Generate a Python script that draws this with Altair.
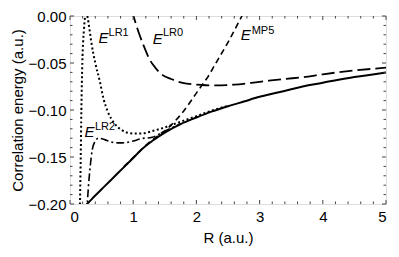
import altair as alt
import pandas as pd

# ---- data ----
R_exact = [0.24, 0.27, 0.4, 0.55, 0.7, 0.85, 1.0, 1.125, 1.3, 1.5, 1.75, 2.0, 2.25, 2.5, 2.75, 3.0, 3.25, 3.5, 3.75, 4.0, 4.5, 5.0]
E_exact = [-0.202, -0.200, -0.191, -0.181, -0.171, -0.161, -0.151, -0.1425, -0.133, -0.124, -0.115, -0.108, -0.1015, -0.096, -0.091, -0.086, -0.082, -0.078, -0.074, -0.071, -0.065, -0.060]

R_lr1 = [0.155, 0.17, 0.18, 0.195, 0.22, 0.25, 0.265, 0.28, 0.31, 0.34, 0.40, 0.47, 0.53, 0.60, 0.70, 0.81, 0.90, 1.0, 1.125, 1.3, 1.5, 1.75, 2.0, 2.25, 2.5]
E_lr1 = [-0.21, -0.15, -0.10, -0.05, -0.015, 0.002, 0.002, -0.002, -0.015, -0.029, -0.050, -0.069, -0.088, -0.102, -0.114, -0.121, -0.124, -0.125, -0.125, -0.1225, -0.1185, -0.1125, -0.1065, -0.1005, -0.0955]

R_lr2 = [0.265, 0.29, 0.32, 0.35, 0.40, 0.45, 0.55, 0.65, 0.79, 0.90, 1.0, 1.125, 1.3, 1.5, 1.75]
E_lr2 = [-0.21, -0.183, -0.160, -0.143, -0.133, -0.130, -0.1315, -0.134, -0.135, -0.1345, -0.133, -0.1305, -0.129, -0.1225, -0.1145]

R_mp5 = [0.85, 1.0, 1.2, 1.4, 1.57, 1.8, 2.01, 2.09, 2.17, 2.30, 2.5, 2.72, 2.8]
E_mp5 = [-0.1605, -0.1505, -0.1375, -0.127, -0.118, -0.101, -0.081, -0.0734, -0.066, -0.051, -0.028, 0.0, 0.01]

R_lr0 = [0.98, 1.005, 1.1, 1.18, 1.255, 1.35, 1.46, 1.6, 1.78, 2.09, 2.3, 2.6, 3.0, 3.39, 3.70, 4.0, 4.5, 5.0]
E_lr0 = [0.006, 0.0, -0.020, -0.034, -0.0457, -0.055, -0.0626, -0.067, -0.0711, -0.0734, -0.0738, -0.073, -0.070, -0.067, -0.065, -0.062, -0.058, -0.055]

label_names = ["LR1", "LR0", "MP5", "LR2"]
label_R = [0.45, 1.31, 2.70, 0.23]
label_E = [-0.0291, -0.0294, -0.0254, -0.1286]
sup_R = [0.61, 1.47, 2.875, 0.395]
sup_E = [-0.0213, -0.0213, -0.0193, -0.1218]

x_major = [0, 1, 2, 3, 4, 5]
x_minor = [round(i * 0.2, 2) for i in range(26) if i % 5 != 0]
y_major = [0.0, -0.05, -0.10, -0.15, -0.20]
y_minor = [round(-i * 0.01, 2) for i in range(21) if i % 5 != 0]

W, H = 316, 188
FONT = "Liberation Sans"

xs = alt.Scale(domain=[0, 5], nice=False)
ys = alt.Scale(domain=[-0.2, 0.0], nice=False)

xax = alt.Axis(values=x_major, format="d", tickSize=0, domain=False, grid=False,
               labelFontSize=15, titleFontSize=15, labelPadding=5, titlePadding=6,
               labelColor="black", titleColor="black", titleFontWeight="normal", labelFont=FONT, titleFont=FONT)
yax = alt.Axis(values=y_major, format=".2f", tickSize=0, domain=False, grid=False,
               labelFontSize=15, titleFontSize=15, labelPadding=4, titlePadding=3,
               labelColor="black", titleColor="black", titleFontWeight="normal", labelFont=FONT, titleFont=FONT)


def line(R, E, dash, width):
    df = pd.DataFrame({"R": R, "E": E})
    enc = dict(x=alt.X("R:Q", scale=xs, axis=xax, title="R (a.u.)"),
               y=alt.Y("E:Q", scale=ys, axis=yax, title="Correlation energy (a.u.)"))
    kw = dict(color="black", strokeWidth=width, clip=True, interpolate="monotone")
    if dash:
        kw["strokeDash"] = dash
    return alt.Chart(df).mark_line(**kw).encode(**enc)


layers = [
    line(R_lr0, E_lr0, [13, 5], 1.8),
    line(R_mp5, E_mp5, [6, 4], 1.6),
    line(R_lr1, E_lr1, [2, 2.5], 2.0),
    line(R_lr2, E_lr2, [8, 3, 2, 3], 1.6),
    line(R_exact, E_exact, None, 2.0),
]

# tick marks (inward) on all four sides
tx_maj = pd.DataFrame({"R": x_major})
tx_min = pd.DataFrame({"R": x_minor})
ty_maj = pd.DataFrame({"E": y_major})
ty_min = pd.DataFrame({"E": y_minor})
tc = "#444"
for df, ln in [(tx_maj, 4), (tx_min, 2.5)]:
    layers.append(alt.Chart(df).mark_rule(color=tc, strokeWidth=1).encode(
        x=alt.X("R:Q", scale=xs), y=alt.value(H), y2=alt.value(H - ln)))
    layers.append(alt.Chart(df).mark_rule(color=tc, strokeWidth=1).encode(
        x=alt.X("R:Q", scale=xs), y=alt.value(0), y2=alt.value(ln)))
for df, ln in [(ty_maj, 4), (ty_min, 2.5)]:
    layers.append(alt.Chart(df).mark_rule(color=tc, strokeWidth=1).encode(
        y=alt.Y("E:Q", scale=ys), x=alt.value(0), x2=alt.value(ln)))
    layers.append(alt.Chart(df).mark_rule(color=tc, strokeWidth=1).encode(
        y=alt.Y("E:Q", scale=ys), x=alt.value(W), x2=alt.value(W - ln)))

lab = pd.DataFrame({"R": label_R, "E": label_E, "t": ["E"] * 4})
sup = pd.DataFrame({"R": sup_R, "E": sup_E, "t": label_names})
layers.append(alt.Chart(lab).mark_text(font=FONT, fontSize=15, fontStyle="italic", align="left",
                                       baseline="alphabetic", color="black").encode(
    x=alt.X("R:Q", scale=xs), y=alt.Y("E:Q", scale=ys), text="t:N"))
layers.append(alt.Chart(sup).mark_text(font=FONT, fontSize=11, align="left",
                                       baseline="alphabetic", color="black").encode(
    x=alt.X("R:Q", scale=xs), y=alt.Y("E:Q", scale=ys), text="t:N"))

chart = alt.layer(*layers).properties(
    width=W, height=H,
    autosize=alt.AutoSizeParams(type="none"),
    padding={"left": 62, "top": 8, "right": 5, "bottom": 42},
).configure_view(stroke="#333", strokeWidth=1).configure(background="white")

chart.save("out.html", embed_options={"renderer": "svg", "actions": False})
